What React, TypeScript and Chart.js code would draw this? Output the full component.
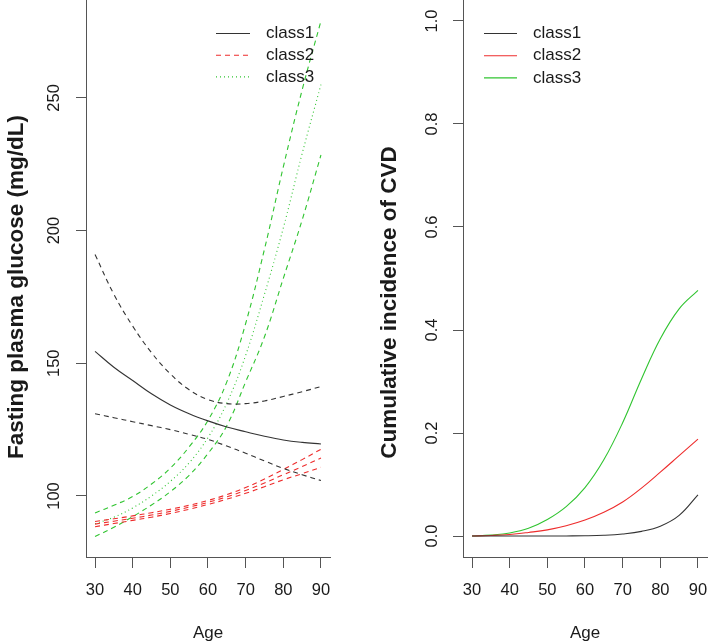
import React, { useEffect, useRef } from "react";
import { Chart, registerables } from "chart.js";

Chart.register(...registerables);

// ---------- data ----------
const ages = [30, 35, 40, 45, 50, 55, 60, 65, 70, 75, 80, 85, 90];

// Fasting plasma glucose (mg/dL)
const class1Mean = [154.5, 148.5, 143.5, 138.5, 134.3, 131, 128.3, 126, 124.2, 122.5, 121.1, 120.2, 119.6];
const class1Upper = [191, 176, 164, 154, 146, 140, 136.3, 134.8, 134.8, 135.8, 137.5, 139.3, 141.2];
const class1Lower = [131, 129.5, 128, 126.5, 125, 123.2, 121.3, 118.8, 116.1, 113.2, 110.4, 108, 105.8];
const class2Mean = [89.4, 90.5, 91.6, 92.8, 94.2, 95.8, 97.6, 99.7, 102.1, 104.9, 108, 111.1, 114.3];
const class2Upper = [90.4, 91.4, 92.5, 93.7, 95, 96.5, 98.3, 100.5, 103.2, 106.4, 110, 113.7, 117.6];
const class2Lower = [88.4, 89.6, 90.8, 92, 93.4, 95, 96.8, 98.8, 101, 103.5, 106.1, 108.4, 110.8];
const class3Mean = [89.5, 92, 95.5, 100, 105.5, 112.5, 122, 135, 153, 176, 201, 229, 255];
const class3Upper = [93.6, 96.5, 99.8, 104.5, 110.5, 118.5, 128.5, 143, 165, 193, 224, 253, 279];
const class3Lower = [84.7, 88.2, 92.2, 96.6, 101.6, 107.8, 116, 126.5, 143, 160, 182, 204, 228.5];

// Cumulative incidence of CVD
const cvdClass1 = [0, 0, 0, 0, 0, 0.0002, 0.0005, 0.0015, 0.004, 0.009, 0.019, 0.04, 0.08];
const cvdClass2 = [0, 0.001, 0.003, 0.007, 0.012, 0.02, 0.031, 0.046, 0.066, 0.093, 0.124, 0.156, 0.188];
const cvdClass3 = [0, 0.002, 0.006, 0.015, 0.032, 0.057, 0.094, 0.148, 0.22, 0.305, 0.383, 0.441, 0.477];

const ageTicks = [30, 40, 50, 60, 70, 80, 90];
const glucoseTicks = [100, 150, 200, 250];
const cvdTicks = [0, 0.2, 0.4, 0.6, 0.8, 1.0];
const legendLabels = ["class1", "class2", "class3"];

const glucoseTitle = "Fasting plasma glucose (mg/dL)";
const cvdTitle = "Cumulative incidence of CVD";
const ageTitle = "Age";

// ---------- styles ----------
const FONT = '"Liberation Sans", Arial, Helvetica, sans-serif';
const TEXT = "#1a1a1a";
const AXIS = "#555555";
const BLACK = "#333333";
const RED = "#ee2c2c";
const GREEN = "#30c430";
const SOLID: number[] = [];
const DASHED = [5, 4];
const DOTTED = [1, 3];

const pts = (ys: number[]) => ages.map((x, i) => ({ x, y: ys[i] }));

function lineDs(label: string, ys: number[], color: string, dash: number[]) {
  return {
    label,
    data: pts(ys),
    borderColor: color,
    backgroundColor: color,
    borderWidth: 1.1,
    borderDash: dash,
    pointRadius: 0,
    pointHoverRadius: 0,
    fill: false,
    tension: 0.4,
  };
}

const overlayPlugin = {
  id: "overlay",
  afterDraw(chart: any, _args: any, opts: any) {
    const ctx = chart.ctx as CanvasRenderingContext2D;
    ctx.save();
    ctx.translate(opts.titleX, opts.titleY);
    ctx.rotate(-Math.PI / 2);
    ctx.font = `bold 22.5px ${FONT}`;
    ctx.fillStyle = TEXT;
    ctx.textAlign = "center";
    ctx.textBaseline = "middle";
    ctx.fillText(opts.title, 0, 0);
    ctx.restore();

    opts.items.forEach((it: any, i: number) => {
      const y = opts.legendY + i * opts.legendGap;
      ctx.save();
      ctx.strokeStyle = it.color;
      ctx.lineWidth = 1.1;
      ctx.setLineDash(it.dash);
      ctx.beginPath();
      ctx.moveTo(opts.lineX0, y);
      ctx.lineTo(opts.lineX1, y);
      ctx.stroke();
      ctx.setLineDash([]);
      ctx.font = `17px ${FONT}`;
      ctx.fillStyle = TEXT;
      ctx.textAlign = "left";
      ctx.textBaseline = "middle";
      ctx.fillText(it.label, opts.textX, y);
      ctx.restore();
    });
  },
};

function xScale() {
  return {
    type: "linear" as const,
    min: 27.6,
    max: 92.4,
    afterBuildTicks: (s: any) => {
      s.ticks = ageTicks.map((v) => ({ value: v }));
    },
    afterFit: (s: any) => {
      s.height = 87;
      s.paddingLeft = 0;
      s.paddingRight = 0;
    },
    grid: { display: true, drawOnChartArea: false, drawTicks: true, tickLength: 11, tickColor: AXIS, tickWidth: 1 },
    border: { display: true, color: AXIS, width: 1 },
    ticks: { color: TEXT, font: { family: FONT, size: 16.5 }, padding: 13, maxRotation: 0, autoSkip: false },
    title: { display: true, text: ageTitle, color: TEXT, font: { family: FONT, size: 17 }, padding: { top: 0, bottom: 0 } },
  };
}

function yScale(min: number, max: number, tickVals: number[], width: number, pad: number, fmt: (v: number) => string) {
  return {
    type: "linear" as const,
    min,
    max,
    afterBuildTicks: (s: any) => {
      s.ticks = tickVals.map((v) => ({ value: v }));
    },
    afterFit: (s: any) => {
      s.width = width;
      s.paddingTop = 0;
      s.paddingBottom = 0;
    },
    grid: { display: true, drawOnChartArea: false, drawTicks: true, tickLength: 10, tickColor: AXIS, tickWidth: 1 },
    border: { display: true, color: AXIS, width: 1 },
    ticks: {
      color: TEXT,
      font: { family: FONT, size: 16.5 },
      minRotation: 90,
      maxRotation: 90,
      crossAlign: "center" as const,
      padding: pad,
      autoSkip: false,
      callback: (v: any) => fmt(Number(v)),
    },
  };
}

export default function App() {
  const leftRef = useRef<HTMLCanvasElement>(null);
  const rightRef = useRef<HTMLCanvasElement>(null);

  useEffect(() => {
    Chart.defaults.font.family = FONT;

    const left = new Chart(leftRef.current as HTMLCanvasElement, {
      type: "line",
      data: {
        datasets: [
          lineDs("class1", class1Mean, BLACK, SOLID),
          lineDs("class1 upper", class1Upper, BLACK, DASHED),
          lineDs("class1 lower", class1Lower, BLACK, DASHED),
          lineDs("class2", class2Mean, RED, DASHED),
          lineDs("class2 upper", class2Upper, RED, DASHED),
          lineDs("class2 lower", class2Lower, RED, DASHED),
          lineDs("class3", class3Mean, GREEN, DOTTED),
          lineDs("class3 upper", class3Upper, GREEN, DASHED),
          lineDs("class3 lower", class3Lower, GREEN, DASHED),
        ] as any,
      },
      options: {
        animation: false,
        responsive: false,
        devicePixelRatio: 1,
        events: [],
        layout: { padding: { left: 0, top: 0, right: 25, bottom: 0 } },
        scales: {
          x: xScale(),
          y: yScale(77.0, 286.9, glucoseTicks, 86, 7.5, (v) => String(Math.round(v))),
        },
        plugins: {
          legend: { display: false },
          tooltip: { enabled: false },
          overlay: {
            title: glucoseTitle,
            titleX: 17.2,
            titleY: 287,
            legendY: 33.5,
            legendGap: 21.7,
            lineX0: 216,
            lineX1: 250,
            textX: 266,
            items: [
              { label: legendLabels[0], color: BLACK, dash: SOLID },
              { label: legendLabels[1], color: RED, dash: DASHED },
              { label: legendLabels[2], color: GREEN, dash: DOTTED },
            ],
          },
        } as any,
      },
      plugins: [overlayPlugin],
    });

    const right = new Chart(rightRef.current as HTMLCanvasElement, {
      type: "line",
      data: {
        datasets: [
          lineDs("class1", cvdClass1, BLACK, SOLID),
          lineDs("class2", cvdClass2, RED, SOLID),
          lineDs("class3", cvdClass3, GREEN, SOLID),
        ] as any,
      },
      options: {
        animation: false,
        responsive: false,
        devicePixelRatio: 1,
        events: [],
        layout: { padding: { left: 0, top: 0, right: 2, bottom: 0 } },
        scales: {
          x: xScale(),
          y: yScale(-0.0407, 1.0407, cvdTicks, 108, 9, (v) => v.toFixed(1)),
        },
        plugins: {
          legend: { display: false },
          tooltip: { enabled: false },
          overlay: {
            title: cvdTitle,
            titleX: 34.3,
            titleY: 302.5,
            legendY: 33.5,
            legendGap: 22.2,
            lineX0: 129,
            lineX1: 162,
            textX: 178,
            items: [
              { label: legendLabels[0], color: BLACK, dash: SOLID },
              { label: legendLabels[1], color: RED, dash: SOLID },
              { label: legendLabels[2], color: GREEN, dash: SOLID },
            ],
          },
        } as any,
      },
      plugins: [overlayPlugin],
    });

    return () => {
      left.destroy();
      right.destroy();
    };
  }, []);

  return (
    <div style={{ position: "fixed", left: 0, top: 0, width: 709, height: 644, background: "#ffffff" }}>
      <canvas
        ref={leftRef}
        width={355}
        height={644}
        style={{ position: "absolute", left: 0, top: 0, width: 355, height: 644 }}
      />
      <canvas
        ref={rightRef}
        width={354}
        height={644}
        style={{ position: "absolute", left: 355, top: 0, width: 354, height: 644 }}
      />
    </div>
  );
}
